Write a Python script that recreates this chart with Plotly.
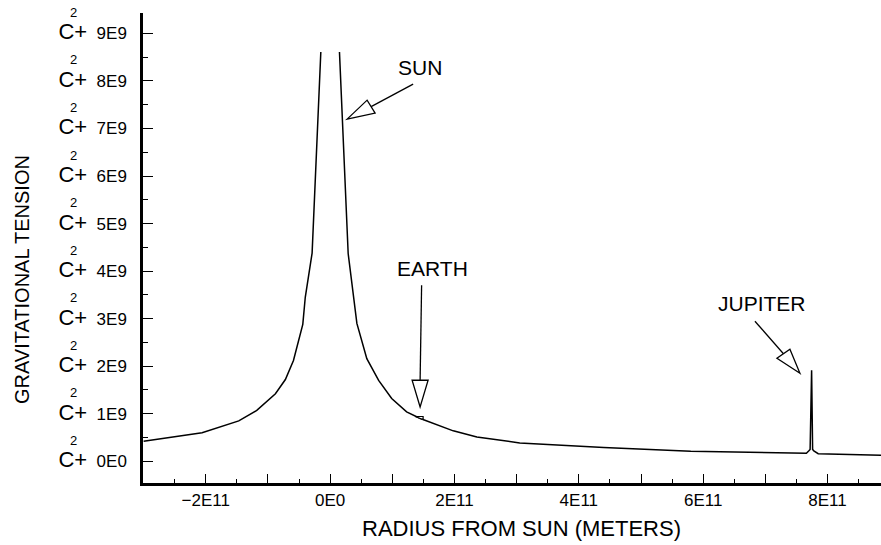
import plotly.graph_objects as go

# ---- data ----
radius_m = [-3.0e11, -2.06e11, -1.47e11, -1.18e11, -0.88e11, -0.72e11, -0.59e11, -0.44e11,
            -0.40e11, -0.29e11, -0.15e11, None,
            0.15e11, 0.29e11, 0.43e11, 0.59e11, 0.78e11, 0.99e11, 1.23e11, 1.45e11,
            1.98e11, 2.36e11, 3.05e11, 3.6e11, 4.4e11, 5.8e11, 7.66e11, 7.70e11, 7.72e11,
            7.744e11, 7.76e11, 7.78e11, 7.85e11, 8.86e11]
tension = [0.42e9, 0.60e9, 0.85e9, 1.07e9, 1.42e9, 1.72e9, 2.12e9, 2.88e9,
           3.45e9, 4.38e9, 8.61e9, None,
           8.61e9, 4.37e9, 2.90e9, 2.16e9, 1.70e9, 1.32e9, 1.04e9, 0.90e9,
           0.64e9, 0.51e9, 0.385e9, 0.34e9, 0.29e9, 0.21e9, 0.17e9, 0.22e9, 0.25e9,
           1.915e9, 0.25e9, 0.22e9, 0.16e9, 0.126e9]

x_tick_vals = [-3e11, -2e11, -1e11, 0, 1e11, 2e11, 3e11, 4e11, 5e11, 6e11, 7e11, 8e11]
x_tick_text = ["", "\u22122E11", "", "0E0", "", "2E11", "", "4E11", "", "6E11", "", "8E11"]
y_tick_vals = [0, 1e9, 2e9, 3e9, 4e9, 5e9, 6e9, 7e9, 8e9, 9e9]
y_tick_nums = ["0E0", "1E9", "2E9", "3E9", "4E9", "5E9", "6E9", "7E9", "8E9", "9E9"]

# labelled bodies: (name, arrow tip x, arrow tip y, label x, label y)
bodies = [
    ("SUN", 0.273e11, 7.197e9, 1.447e11, 8.29e9),
    ("EARTH", 1.447e11, 1.143e9, 1.64e11, 4.06e9),
    ("JUPITER", 7.556e11, 1.852e9, 6.945e11, 3.325e9),
]
earth_pos = (1.447e11, 0.90e9)

FONT = "Liberation Sans"

fig = go.Figure()
fig.add_trace(go.Scatter(x=radius_m, y=tension, mode="lines",
                         line=dict(color="black", width=1.5),
                         connectgaps=False, hoverinfo="skip", showlegend=False))

# arrow geometry (pixels, y up, relative to tip): line start/end, triangle corners
arrow_geom = {
    "SUN": dict(line=(66, 35, 24, 12.5), tri=[(20, 19), (28, 6)]),
    "EARTH": dict(line=(1.5, 121.7, 0, 26.7), tri=[(-8, 26.7), (8, 26.7)]),
    "JUPITER": dict(line=(-45, 52, -16.5, 19.5), tri=[(-23, 15), (-10, 24)]),
}
shapes = []
annotations = []
for name, tx, ty, lx, ly in bodies:
    g = arrow_geom[name]
    x0, y0, x1, y1 = g["line"]
    shapes.append(dict(type="line", xref="x", yref="y", xsizemode="pixel", ysizemode="pixel",
                       xanchor=tx, yanchor=ty, x0=x0, y0=y0, x1=x1, y1=y1,
                       line=dict(color="black", width=1.3)))
    (ax, ay), (bx, by) = g["tri"]
    shapes.append(dict(type="path", xref="x", yref="y", xsizemode="pixel", ysizemode="pixel",
                       xanchor=tx, yanchor=ty,
                       path=f"M 0,0 L {ax},{ay} L {bx},{by} Z",
                       fillcolor="white", line=dict(color="black", width=1.3)))
    annotations.append(dict(x=lx, y=ly, xref="x", yref="y", text=name, showarrow=False,
                            font=dict(family=FONT, size=21, color="black")))

# small earth marker
shapes.append(dict(type="path", xref="x", yref="y", xsizemode="pixel", ysizemode="pixel",
                   xanchor=earth_pos[0], yanchor=earth_pos[1],
                   path="M -5,2 L 3,2 L 3,-1 Z",
                   fillcolor="white", line=dict(color="black", width=1.2)))

# superscript "2" over each y tick label
for v in y_tick_vals:
    annotations.append(dict(x=0, y=v, xref="paper", yref="y", xshift=-70, yshift=21,
                            xanchor="center", yanchor="middle",
                            text="2", showarrow=False,
                            font=dict(family=FONT, size=13, color="black")))

# axis titles
annotations.append(dict(x=(521 - 143) / 738, y=-(528 - 483) / 470, xref="paper", yref="paper",
                        xanchor="center", yanchor="middle",
                        text="RADIUS FROM SUN (METERS)",
                        showarrow=False, font=dict(family=FONT, size=22, color="black")))
annotations.append(dict(x=0, y=0.5, xref="paper", yref="paper", xshift=-121, yshift=-32,
                        xanchor="center", yanchor="middle",
                        text="GRAVITATIONAL TENSION", textangle=-90, showarrow=False,
                        font=dict(family=FONT, size=20, color="black")))

y_tick_text = [f"<span style='font-size:22px'>C+</span>\u00a0 {t}" for t in y_tick_nums]

fig.update_layout(
    width=881, height=545,
    margin=dict(l=143, r=0, t=13, b=62),
    paper_bgcolor="white", plot_bgcolor="white",
    font=dict(family=FONT, size=17, color="black"),
    shapes=shapes, annotations=annotations,
    showlegend=False,
    xaxis=dict(range=[-3.01e11, 8.86e11], showgrid=False, zeroline=False,
               showline=True, linecolor="black", linewidth=2.5,
               tickmode="array", tickvals=x_tick_vals, ticktext=x_tick_text,
               ticks="inside", ticklen=9, tickwidth=1.2, tickcolor="black",
               minor=dict(dtick=0.5e11, tick0=0, ticks="inside", ticklen=4,
                          tickwidth=1.2, tickcolor="black"),
               tickfont=dict(family=FONT, size=17, color="black")),
    yaxis=dict(range=[-0.457e9, 9.43e9], showgrid=False, zeroline=False,
               showline=True, linecolor="black", linewidth=2.5,
               tickmode="array", tickvals=y_tick_vals, ticktext=y_tick_text,
               ticks="inside", ticklen=10, tickwidth=1.2, tickcolor="black",
               ticklabelstandoff=10,
               minor=dict(dtick=0.5e9, tick0=0, ticks="inside", ticklen=5,
                          tickwidth=1.2, tickcolor="black"),
               tickfont=dict(family=FONT, size=17, color="black")),
)

fig.write_html("out.html", config={"displayModeBar": False},
               post_script="document.body.style.margin='0';document.body.style.overflow='hidden';")
